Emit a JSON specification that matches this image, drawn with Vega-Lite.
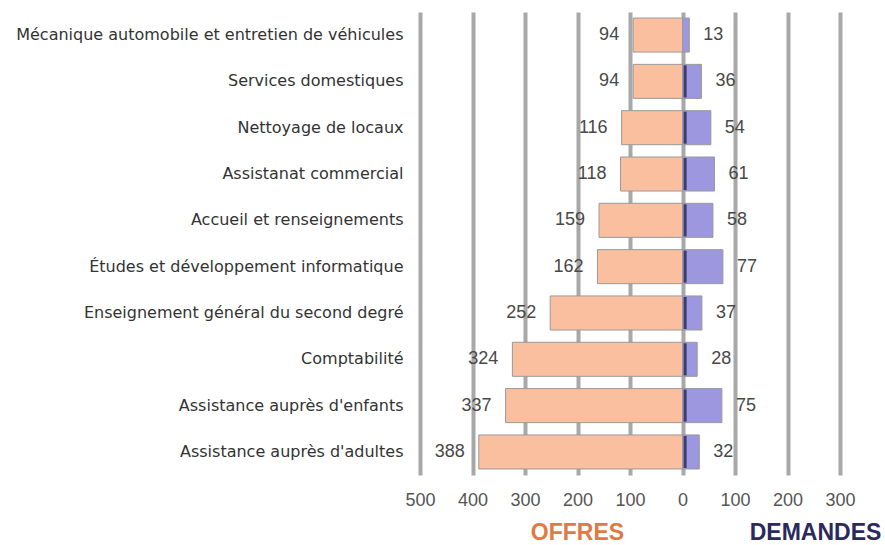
{
  "$schema": "https://vega.github.io/schema/vega-lite/v6.json",
  "width": 420,
  "height": 463,
  "autosize": "none",
  "padding": {"left": 420, "top": 12, "right": 45, "bottom": 70},
  "background": "white",
  "config": {"view": {"stroke": null}, "font": "Liberation Sans"},
  "data": {
    "values": [
      {"metier": "Mécanique automobile et entretien de véhicules", "offres": 94, "demandes": 13},
      {"metier": "Services domestiques", "offres": 94, "demandes": 36},
      {"metier": "Nettoyage de locaux", "offres": 116, "demandes": 54},
      {"metier": "Assistanat commercial", "offres": 118, "demandes": 61},
      {"metier": "Accueil et renseignements", "offres": 159, "demandes": 58},
      {"metier": "Études et développement informatique", "offres": 162, "demandes": 77},
      {"metier": "Enseignement général du second degré", "offres": 252, "demandes": 37},
      {"metier": "Comptabilité", "offres": 324, "demandes": 28},
      {"metier": "Assistance auprès d'enfants", "offres": 337, "demandes": 75},
      {"metier": "Assistance auprès d'adultes", "offres": 388, "demandes": 32}
    ]
  },
  "encoding": {
    "y": {
      "field": "metier", "type": "nominal", "sort": null,
      "scale": {"paddingInner": 0.265, "paddingOuter": 0.13},
      "axis": {"title": null, "ticks": false, "domain": false, "labelPadding": 17, "labelFontSize": 16, "labelColor": "#333333", "labelFont": "DejaVu Sans", "labelLimit": 420}
    }
  },
  "layer": [
    {
      "encoding": {
        "x": {
          "field": "offres", "type": "quantitative",
          "scale": {"domain": [-300, 500], "reverse": true, "nice": false},
          "axis": {"labels": false, "ticks": false, "domain": false, "grid": false, "title": "OFFRES", "titleX": 157, "titleY": 64, "titleBaseline": "alphabetic", "titleFontSize": 23, "titleFontWeight": "bold", "titleColor": "#E07A42"}
        }
      },
      "layer": [
        {"mark": {"type": "bar", "color": "#F9BF9F", "stroke": "#9a9a9a", "strokeWidth": 1}},
        {"mark": {"type": "text", "align": "right", "baseline": "middle", "dx": -14, "fontSize": 18, "color": "#484848"}, "encoding": {"text": {"field": "offres", "type": "quantitative"}}}
      ]
    },
    {
      "encoding": {
        "x": {
          "field": "demandes", "type": "quantitative",
          "scale": {"domain": [-500, 300], "nice": false},
          "axis": {"orient": "bottom", "values": [-500, -400, -300, -200, -100, 0, 100, 200, 300], "labelExpr": "format(abs(datum.value), 'd')", "labelFlush": false, "ticks": false, "domain": false, "grid": true, "gridColor": "#a8a8a8", "gridWidth": 4, "labelFontSize": 18, "labelColor": "#555555", "labelPadding": 16, "title": "DEMANDES", "titleX": 395, "titleY": 64, "titleBaseline": "alphabetic", "titleFontSize": 23, "titleFontWeight": "bold", "titleColor": "#2B2A5C"}
        }
      },
      "layer": [
        {"mark": {"type": "bar", "color": "#9C97DE", "stroke": "#9a9a9a", "strokeWidth": 1}},
        {"transform": [{"filter": "datum.demandes >= 20"}], "mark": {"type": "tick", "color": "#15153a", "thickness": 3, "size": 32}, "encoding": {"x": {"datum": 5}}},
        {"mark": {"type": "text", "align": "left", "baseline": "middle", "dx": 14, "fontSize": 18, "color": "#484848"}, "encoding": {"text": {"field": "demandes", "type": "quantitative"}}}
      ]
    }
  ],
  "resolve": {"scale": {"x": "independent"}, "axis": {"x": "independent"}}
}
